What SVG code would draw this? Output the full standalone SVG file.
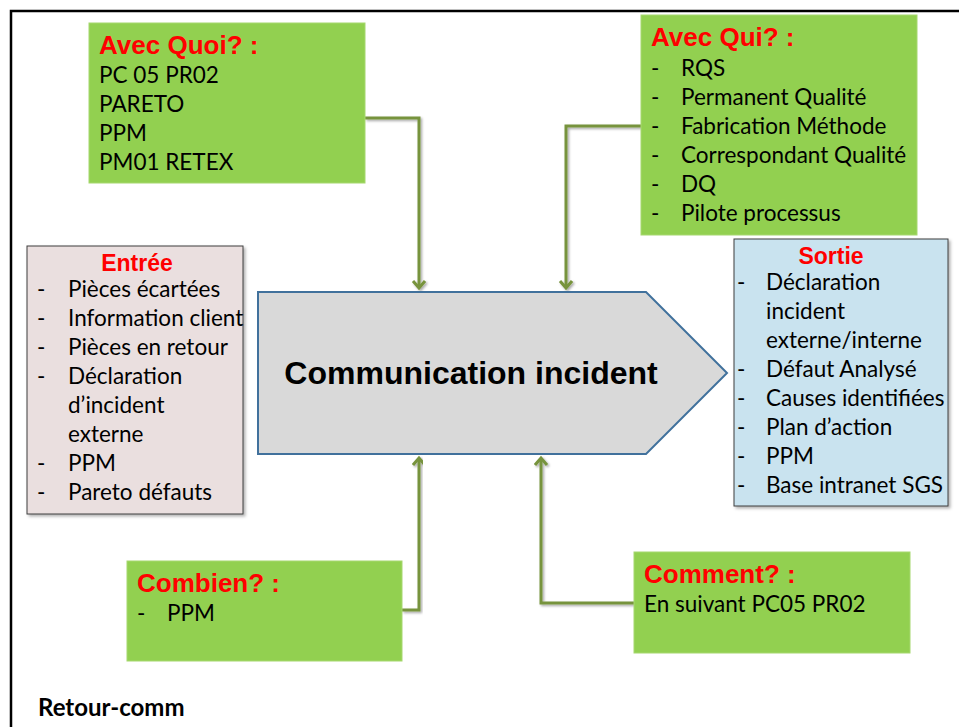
<svg xmlns="http://www.w3.org/2000/svg" width="959" height="727" viewBox="0 0 959 727">
  <style>
    .green { fill: #92D050; stroke: #A6D86E; stroke-width: 1; }
    .title { font-family: "Liberation Sans", Arial, sans-serif; font-weight: bold; font-size: 26px; fill: #FF0000; }
    .sub { font-family: "Liberation Sans", Arial, sans-serif; font-weight: bold; font-size: 23px; fill: #FF0000; }
    .body { font-family: Lato, "Open Sans", sans-serif; font-size: 22.5px; fill: #000; }
    .conn { fill: none; stroke: #77933C; stroke-width: 3; filter: url(#shadow); }
  </style>
  <defs>
    <filter id="shadow" x="-20%" y="-20%" width="140%" height="140%">
      <feDropShadow dx="1.5" dy="1.5" stdDeviation="1.2" flood-color="#000" flood-opacity="0.35"/>
    </filter>
    <filter id="boxshadow" x="-10%" y="-10%" width="120%" height="120%">
      <feDropShadow dx="2" dy="2" stdDeviation="1.5" flood-color="#000" flood-opacity="0.3"/>
    </filter>
    <marker id="chev" markerUnits="userSpaceOnUse" markerWidth="16" markerHeight="16" refX="12" refY="7" orient="auto">
      <path d="M5,1 L12,7 L5,13" fill="none" stroke="#77933C" stroke-width="3"/>
    </marker>
  </defs>

  <rect width="959" height="727" fill="#fff"/>
  <!-- page frame -->
  <rect x="11" y="11" width="970" height="740" fill="none" stroke="#000" stroke-width="2.5"/>

  <!-- connectors -->
  <g id="connectors">
    <path class="conn" d="M365,118 H419 V288" marker-end="url(#chev)"/>
    <path class="conn" d="M641,126 H566 V288" marker-end="url(#chev)"/>
    <path class="conn" d="M402,610 H419 V458" marker-end="url(#chev)"/>
    <path class="conn" d="M634,603 H541 V458" marker-end="url(#chev)"/>
  </g>

  <g id="avec-quoi">
    <rect class="green" x="89" y="23" width="276" height="160"/>
    <text class="title" x="99" y="54">Avec Quoi? :</text>
    <text class="body" x="99" y="83">PC 05 PR02</text>
    <text class="body" x="99" y="112">PARETO</text>
    <text class="body" x="99" y="141">PPM</text>
    <text class="body" x="99" y="170">PM01 RETEX</text>
  </g>

  <g id="avec-qui">
    <rect class="green" x="641" y="15" width="276" height="220"/>
    <text class="title" x="651" y="46">Avec Qui? :</text>
    <g class="body">
      <text x="651" y="76">-</text><text x="681" y="76">RQS</text>
      <text x="651" y="105">-</text><text x="681" y="105">Permanent Qualité</text>
      <text x="651" y="134">-</text><text x="681" y="134">Fabrication Méthode</text>
      <text x="651" y="163">-</text><text x="681" y="163">Correspondant Qualité</text>
      <text x="651" y="192">-</text><text x="681" y="192">DQ</text>
      <text x="651" y="221">-</text><text x="681" y="221">Pilote processus</text>
    </g>
  </g>

  <g id="entree">
    <rect x="27" y="246" width="216" height="268" fill="#EADFDF" stroke="#3F3F3F" stroke-width="1" filter="url(#boxshadow)"/>
    <text class="sub" x="137" y="271" text-anchor="middle">Entrée</text>
    <g class="body">
      <text x="37" y="297">-</text><text x="68" y="297">Pièces écartées</text>
      <text x="37" y="326">-</text><text x="68" y="326">Information client</text>
      <text x="37" y="355">-</text><text x="68" y="355">Pièces en retour</text>
      <text x="37" y="384">-</text><text x="68" y="384">Déclaration</text>
      <text x="68" y="413">d’incident</text>
      <text x="68" y="442">externe</text>
      <text x="37" y="471">-</text><text x="68" y="471">PPM</text>
      <text x="37" y="500">-</text><text x="68" y="500">Pareto défauts</text>
    </g>
  </g>

  <g id="process">
    <path d="M258,292 H646 L727,373 L646,454 H258 Z" fill="#D9D9D9" stroke="#41719C" stroke-width="2"/>
    <text x="471" y="384" text-anchor="middle" font-family="Liberation Sans, Arial, sans-serif" font-weight="bold" font-size="32" fill="#000">Communication incident</text>
  </g>

  <g id="sortie">
    <rect x="734" y="239" width="214" height="267" fill="#C9E3EF" stroke="#3F3F3F" stroke-width="1" filter="url(#boxshadow)"/>
    <text class="sub" x="831" y="264" text-anchor="middle">Sortie</text>
    <g class="body">
      <text x="737" y="290">-</text><text x="766" y="290">Déclaration</text>
      <text x="766" y="319">incident</text>
      <text x="766" y="348">externe/interne</text>
      <text x="737" y="377">-</text><text x="766" y="377">Défaut Analysé</text>
      <text x="737" y="406">-</text><text x="766" y="406">Causes identifiées</text>
      <text x="737" y="435">-</text><text x="766" y="435">Plan d’action</text>
      <text x="737" y="464">-</text><text x="766" y="464">PPM</text>
      <text x="737" y="493">-</text><text x="766" y="493">Base intranet SGS</text>
    </g>
  </g>

  <g id="combien">
    <rect class="green" x="127" y="561" width="275" height="100"/>
    <text class="title" x="137" y="592">Combien? :</text>
    <text class="body" x="137" y="621">-</text>
    <text class="body" x="167" y="621">PPM</text>
  </g>

  <g id="comment">
    <rect class="green" x="634" y="552" width="276" height="101"/>
    <text class="title" x="644" y="583">Comment? :</text>
    <text class="body" x="644" y="612">En suivant PC05 PR02</text>
  </g>

  <text x="38" y="716" font-family="Lato, 'Open Sans', sans-serif" font-weight="bold" font-size="24" fill="#000">Retour-comm</text>
</svg>
